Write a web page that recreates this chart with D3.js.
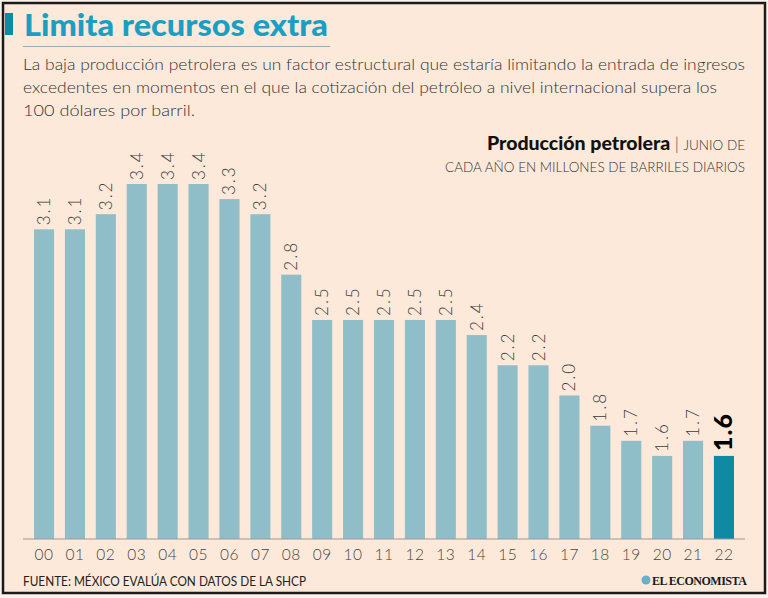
<!DOCTYPE html>
<html>
<head>
<meta charset="utf-8">
<script src="https://cdn.jsdelivr.net/npm/d3@7"></script>
<style>
  body { margin: 0; background: #ffffff; }
  svg { display: block; font-family: Lato, "Open Sans", sans-serif; }
</style>
</head>
<body>
<svg id="chart" width="768" height="598"></svg>
<script>
"use strict";

// producción petrolera, junio de cada año (millones de barriles diarios)
const years = ["00","01","02","03","04","05","06","07","08","09","10","11","12","13","14","15","16","17","18","19","20","21","22"];
const values = [3.1, 3.1, 3.2, 3.4, 3.4, 3.4, 3.3, 3.2, 2.8, 2.5, 2.5, 2.5, 2.5, 2.5, 2.4, 2.2, 2.2, 2.0, 1.8, 1.7, 1.6, 1.7, 1.6];
const subtitleLines = [
	"La baja producción petrolera es un factor estructural que estaría limitando la entrada de ingresos",
	"excedentes en momentos en el que la cotización del petróleo a nivel internacional supera los",
	"100 dólares por barril."
];

const data = years.map((y, i) => ({year: y, value: values[i]}));

const svg = d3.select("#chart");
const bg = "#fde9da";

// frame
svg.append("rect").attr("width", 768).attr("height", 598).attr("fill", "#fdf3ea");
svg.append("rect")
	.attr("x", 3).attr("y", 3)
	.attr("width", 762).attr("height", 590)
	.attr("fill", bg)
	.attr("stroke", "#1b1b1b")
	.attr("stroke-width", 2.5);

// title
svg.append("rect").attr("x", 5).attr("y", 13).attr("width", 8).attr("height", 22).attr("fill", "#0e8aa3");
svg.append("text")
	.attr("x", 24).attr("y", 36)
	.attr("font-size", 31).attr("font-weight", 900)
	.attr("fill", "#1a9fc3")
	.attr("textLength", 304).attr("lengthAdjust", "spacingAndGlyphs")
	.text("Limita recursos extra");
svg.append("line")
	.attr("x1", 23).attr("x2", 330).attr("y1", 46.5).attr("y2", 46.5)
	.attr("stroke", "#9aa9ad").attr("stroke-width", 1);

// subtitle
const subWidths = [722, 694, 172];
svg.selectAll(".sub")
	.data(subtitleLines)
	.enter()
	.append("text")
	.attr("class", "sub")
	.attr("x", 23)
	.attr("y", (d, i) => 70 + i * 23)
	.attr("font-size", 16.5).attr("font-weight", 300)
	.attr("fill", "#333")
	.attr("textLength", (d, i) => subWidths[i]).attr("lengthAdjust", "spacingAndGlyphs")
	.text(d => d);

// chart header (right)
const hdr = svg.append("text")
	.attr("x", 745).attr("y", 150)
	.attr("text-anchor", "end")
	.attr("fill", "#111");
hdr.append("tspan").attr("font-size", 19.5).attr("font-weight", 900).text("Producción petrolera");
hdr.append("tspan").attr("font-size", 17).attr("font-weight", 300).attr("fill", "#444").text("  |  ");
hdr.append("tspan").attr("font-size", 13.5).attr("font-weight", 300).attr("fill", "#333").text("JUNIO DE");
svg.append("text")
	.attr("x", 745).attr("y", 172)
	.attr("text-anchor", "end")
	.attr("font-size", 13.5).attr("font-weight", 300)
	.attr("fill", "#333")
	.text("CADA AÑO  EN MILLONES DE BARRILES DIARIOS");

// scales
const x = d3.scaleBand()
	.domain(years)
	.range([34, 734])
	.paddingInner(0.35)
	.paddingOuter(0);
const y = d3.scaleLinear()
	.domain([1.05, 3.4])
	.range([539, 184]);

// bars
const last = years[years.length - 1];
svg.append("g")
	.selectAll("rect")
	.data(data)
	.enter()
	.append("rect")
	.attr("x", d => x(d.year))
	.attr("y", d => y(d.value))
	.attr("width", x.bandwidth())
	.attr("height", d => y.range()[0] - y(d.value))
	.attr("fill", d => d.year == last ? "#0e8aa3" : "#8fbdc8");

// value labels (rotated)
svg.append("g")
	.selectAll("text")
	.data(data)
	.enter()
	.append("text")
	.attr("transform", d => d.year == last
		? `translate(${x(d.year) + x.bandwidth() / 2 + 8}, ${y(d.value) - 5}) rotate(-90)`
		: `translate(${x(d.year) + x.bandwidth() / 2 + 6}, ${y(d.value) - 4}) rotate(-90)`)
	.attr("font-size", d => d.year == last ? 25 : 17)
	.attr("font-weight", d => d.year == last ? 900 : 300)
	.attr("fill", d => d.year == last ? "#000" : "#3a3a3a")
	.attr("letter-spacing", d => d.year == last ? 1 : 2)
	.text(d => d.value.toFixed(1));

// x axis
const xaxis = d3.axisBottom(x).tickSize(0).tickPadding(10);
const gx = svg.append("g")
	.attr("transform", "translate(0, 539)")
	.call(xaxis);
gx.select(".domain").remove();
gx.append("line")
	.attr("x1", 23).attr("x2", 745)
	.attr("stroke", "#9a9a9a").attr("stroke-width", 1.2);
gx.selectAll(".tick text")
	.attr("font-family", "Lato, sans-serif")
	.attr("font-size", 15.5).attr("font-weight", 300)
	.attr("fill", "#444")
	.attr("letter-spacing", 0.5);

// footer
svg.append("text")
	.attr("x", 23).attr("y", 586)
	.attr("font-size", 13).attr("font-weight", 400)
	.attr("fill", "#222")
	.attr("textLength", 283).attr("lengthAdjust", "spacingAndGlyphs")
	.text("FUENTE: MÉXICO EVALÚA CON DATOS DE LA SHCP");
svg.append("circle").attr("cx", 646).attr("cy", 580).attr("r", 4.5).attr("fill", "#6aaed0");
svg.append("text")
	.attr("x", 652).attr("y", 585)
	.attr("font-family", "Liberation Serif, serif")
	.attr("font-size", 12).attr("font-weight", 700)
	.attr("letter-spacing", -0.5)
	.attr("fill", "#1a1a1a")
	.text("EL ECONOMISTA");
</script>
</body>
</html>
